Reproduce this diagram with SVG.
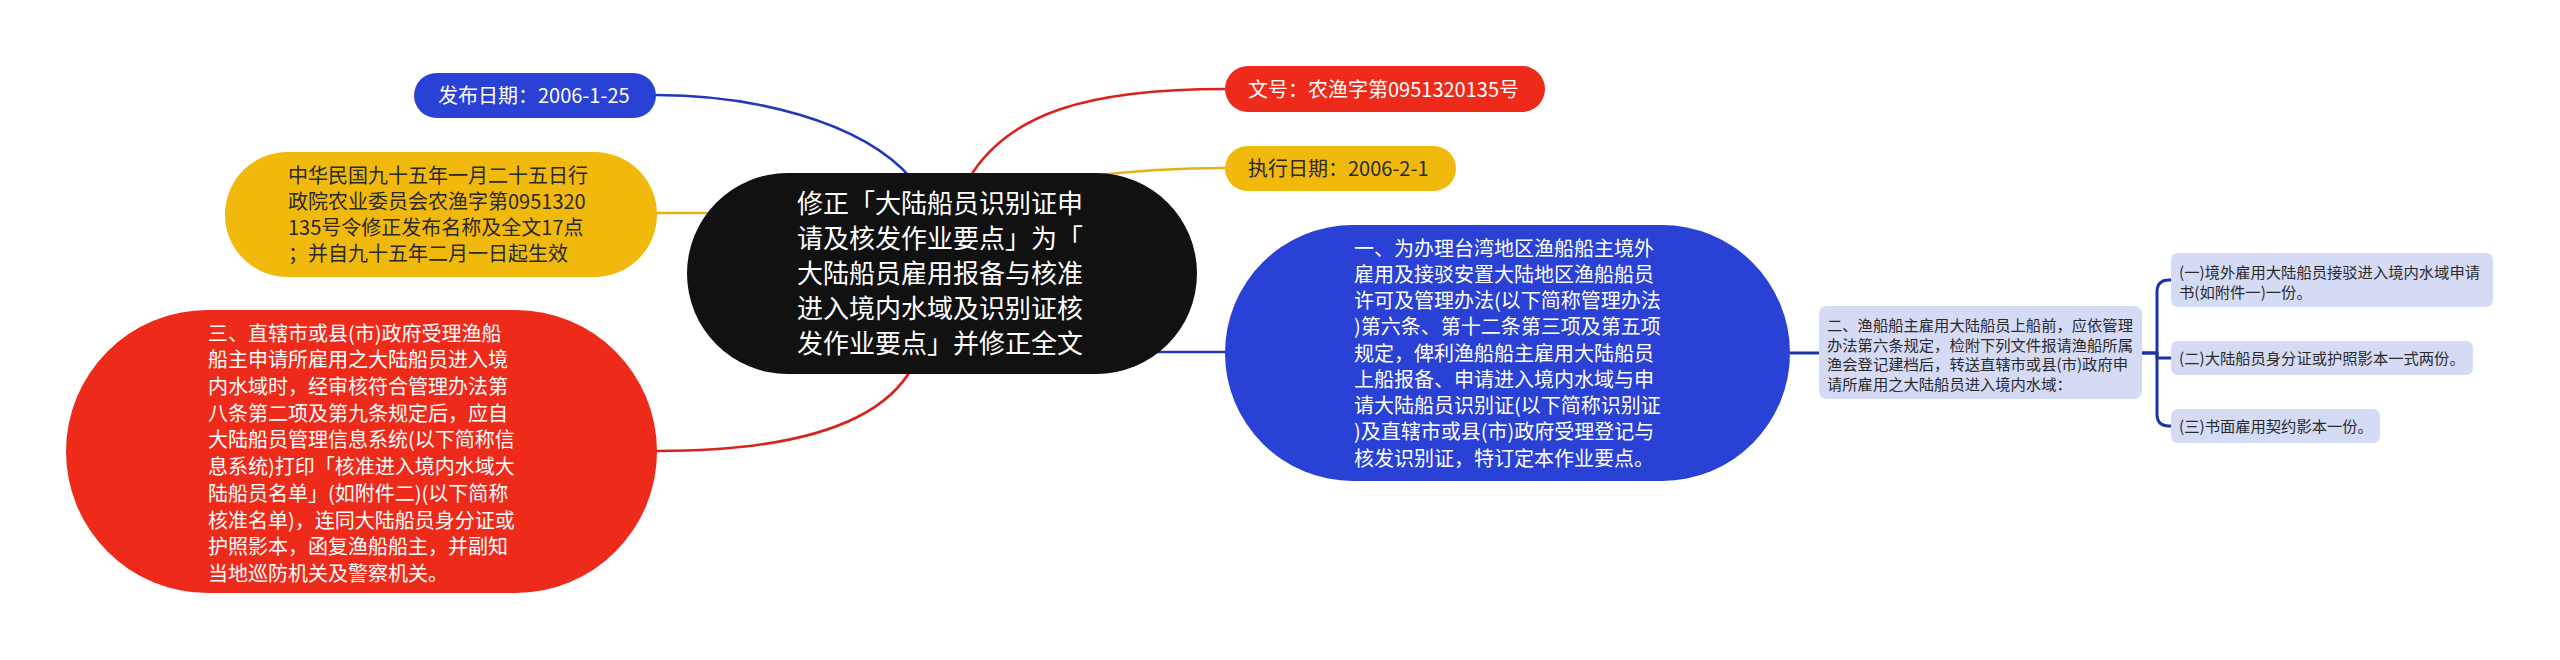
<svg xmlns="http://www.w3.org/2000/svg" width="2560" height="660" viewBox="0 0 2560 660">
  <style>
    text { font-family: "Noto Sans CJK SC", "Liberation Sans", sans-serif; }
    .c { fill: none; stroke-width: 2.6; stroke-linecap: round; }
    .cb { stroke: #2238B8; }
    .cr { stroke: #D8221A; }
    .cy { stroke: #E9B10E; }
    .cn { stroke: #1D32A6; stroke-width: 3; fill: none; stroke-linejoin: round; }
    .tw { fill: #FFFFFF; }
    .td { fill: #2A2A2A; }
    .t20 { font-size: 20px; }
    .t26 { font-size: 26px; }
    .t15 { font-size: 15.3px; }
  </style>
  <rect width="2560" height="660" fill="#FFFFFF"/>

  <g id="connectors">
    <path class="c cb" d="M656 95 C750 95 860 120 911 178"/>
    <path class="c cr" d="M968 180 C1008 112 1090 89 1225 89"/>
    <path class="c cy" d="M1090 176 C1140 170 1180 168 1225 168"/>
    <path class="c cy" d="M657 213 L720 213"/>
    <path class="c cr" d="M912 368 C880 425 790 451 657 451"/>
    <path class="c cb" d="M1140 352 L1225 352"/>
    <path class="cn" d="M1790 353 L1819 353"/>
    <path class="cn" d="M2142 353 L2157 353 L2157 292 Q2157 280 2169 280 L2172 280"/>
    <path class="cn" d="M2142 353 L2157 353 L2157 358 L2172 358"/>
    <path class="cn" d="M2157 353 L2157 414 Q2157 426 2169 426 L2172 426"/>
  </g>

  <g id="node-root">
    <rect x="687" y="173" width="510" height="201" rx="100.5" fill="#111111"/>
    <text class="tw t26" x="797" y="213">修正「大陆船员识别证申</text>
    <text class="tw t26" x="797" y="248">请及核发作业要点」为「</text>
    <text class="tw t26" x="797" y="283">大陆船员雇用报备与核准</text>
    <text class="tw t26" x="797" y="318">进入境内水域及识别证核</text>
    <text class="tw t26" x="797" y="353">发作业要点」并修正全文</text>
  </g>

  <g id="node-release-date">
    <rect x="414" y="73" width="242" height="45" rx="22.5" fill="#2A41D6"/>
    <text class="tw t20" x="438" y="103">发布日期：2006-1-25</text>
  </g>

  <g id="node-doc-no">
    <rect x="1225" y="66" width="320" height="46" rx="23" fill="#EE2A1B"/>
    <text class="tw t20" x="1248" y="96.6">文号：农渔字第0951320135号</text>
  </g>

  <g id="node-exec-date">
    <rect x="1225" y="146" width="231" height="45" rx="22.5" fill="#F0B90C"/>
    <text class="td t20" x="1248" y="176">执行日期：2006-2-1</text>
  </g>

  <g id="node-amend">
    <rect x="225" y="152" width="432" height="125" rx="62.5" fill="#F0B90C"/>
    <text class="td t20" x="288" y="182.6">中华民国九十五年一月二十五日行</text>
    <text class="td t20" x="288" y="208.6">政院农业委员会农渔字第0951320</text>
    <text class="td t20" x="288" y="234.6">135号令修正发布名称及全文17点</text>
    <text class="td t20" x="288" y="260.6">；并自九十五年二月一日起生效</text>
  </g>

  <g id="node-three">
    <rect x="66" y="310" width="591" height="283" rx="141.5" fill="#EE2A1B"/>
    <text class="tw t20" x="208" y="340.6">三、直辖市或县(市)政府受理渔船</text>
    <text class="tw t20" x="208" y="367.3">船主申请所雇用之大陆船员进入境</text>
    <text class="tw t20" x="208" y="394">内水域时，经审核符合管理办法第</text>
    <text class="tw t20" x="208" y="420.7">八条第二项及第九条规定后，应自</text>
    <text class="tw t20" x="208" y="447.4">大陆船员管理信息系统(以下简称信</text>
    <text class="tw t20" x="208" y="474.1">息系统)打印「核准进入境内水域大</text>
    <text class="tw t20" x="208" y="500.8">陆船员名单」(如附件二)(以下简称</text>
    <text class="tw t20" x="208" y="527.5">核准名单)，连同大陆船员身分证或</text>
    <text class="tw t20" x="208" y="554.2">护照影本，函复渔船船主，并副知</text>
    <text class="tw t20" x="208" y="580.9">当地巡防机关及警察机关。</text>
  </g>

  <g id="node-one">
    <rect x="1225" y="225" width="565" height="256" rx="128" fill="#2A41D6"/>
    <text class="tw t20" x="1354" y="255.6">一、为办理台湾地区渔船船主境外</text>
    <text class="tw t20" x="1354" y="281.9">雇用及接驳安置大陆地区渔船船员</text>
    <text class="tw t20" x="1354" y="308.1">许可及管理办法(以下简称管理办法</text>
    <text class="tw t20" x="1354" y="334.4">)第六条、第十二条第三项及第五项</text>
    <text class="tw t20" x="1354" y="360.6">规定，俾利渔船船主雇用大陆船员</text>
    <text class="tw t20" x="1354" y="386.9">上船报备、申请进入境内水域与申</text>
    <text class="tw t20" x="1354" y="413.1">请大陆船员识别证(以下简称识别证</text>
    <text class="tw t20" x="1354" y="439.4">)及直辖市或县(市)政府受理登记与</text>
    <text class="tw t20" x="1354" y="465.6">核发识别证，特订定本作业要点。</text>
  </g>

  <g id="node-two">
    <rect x="1819" y="306" width="323" height="93" rx="8" fill="#D5DAF5"/>
    <text class="td t15" x="1827" y="330.8">二、渔船船主雇用大陆船员上船前，应依管理</text>
    <text class="td t15" x="1827" y="350.5">办法第六条规定，检附下列文件报请渔船所属</text>
    <text class="td t15" x="1827" y="370.2">渔会登记建档后，转送直辖市或县(市)政府申</text>
    <text class="td t15" x="1827" y="389.9">请所雇用之大陆船员进入境内水域：</text>
  </g>

  <g id="node-two-1">
    <rect x="2171" y="253" width="322" height="54" rx="7" fill="#D5DAF5"/>
    <text class="td t15" x="2179" y="277.8">(一)境外雇用大陆船员接驳进入境内水域申请</text>
    <text class="td t15" x="2179" y="297.8">书(如附件一)一份。</text>
  </g>

  <g id="node-two-2">
    <rect x="2171" y="341" width="302" height="34" rx="7" fill="#D5DAF5"/>
    <text class="td t15" x="2179" y="363.8">(二)大陆船员身分证或护照影本一式两份。</text>
  </g>

  <g id="node-two-3">
    <rect x="2171" y="409" width="209" height="34" rx="7" fill="#D5DAF5"/>
    <text class="td t15" x="2179" y="431.8">(三)书面雇用契约影本一份。</text>
  </g>
</svg>
